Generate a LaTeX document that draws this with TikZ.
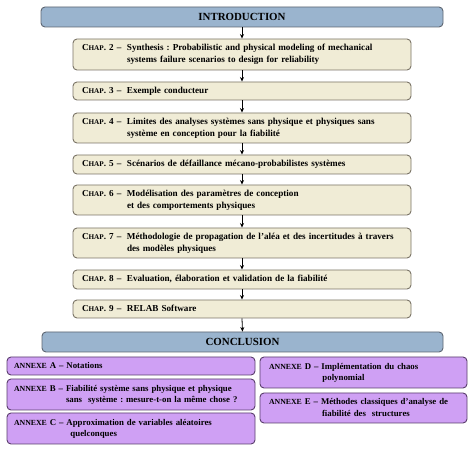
\documentclass[tikz,border=0pt]{standalone}
\usepackage{fontspec}
\setmainfont{Liberation Serif}
\usetikzlibrary{arrows.meta}
\definecolor{blueb}{HTML}{9AB4CE}
\definecolor{bluebd}{HTML}{5E6672}
\definecolor{creamb}{HTML}{F0ECD6}
\definecolor{creambd}{HTML}{7A7466}
\definecolor{purb}{HTML}{CFA0F4}
\definecolor{purbd}{HTML}{5A3E6C}
\newcommand{\chp}[1]{C{\fontsize{7.2}{8}\selectfont HAP}. #1 --}
\newcommand{\anx}[1]{{\fontsize{7.8}{8}\selectfont ANNEXE} #1 --}
\tikzset{
  headbox/.style={draw=bluebd, fill=blueb, line width=0.9pt, rounded corners=4pt,
    font=\bfseries\fontsize{10.9}{12}\selectfont, inner sep=0pt},
  chapbox/.style={draw=creambd, fill=creamb, line width=0.9pt, rounded corners=4pt,
    font=\bfseries\fontsize{9.15}{12}\selectfont, inner xsep=9pt, inner ysep=2pt,
    align=left},
  annbox/.style={draw=purbd, fill=purb, line width=0.9pt, rounded corners=4pt,
    font=\bfseries\fontsize{8.8}{11.5}\selectfont, inner ysep=2pt, align=left},
  link/.style={-{Stealth[length=4.5pt,width=4pt]}, line width=0.8pt, black}
}
\begin{document}
\frenchspacing
\begin{tikzpicture}[x=1pt,y=-1pt]
\useasboundingbox (0,0) rectangle (472,449);
\fill[white] (0,0) rectangle (472,449);
% header
\node[headbox, minimum width=402pt, minimum height=20pt] (intro) at (242,17) {INTRODUCTION};
% chapters
\node[chapbox, text width=320pt, minimum height=31pt] (c2) at (242,54.5)
 {\begin{tabular}{@{}p{45pt}@{}l@{}}\chp{2} & Synthesis : Probabilistic and physical modeling of mechanical\\ & systems failure scenarios to design for reliability\end{tabular}};
\node[chapbox, text width=320pt, minimum height=18pt] (c3) at (242,91)
 {\begin{tabular}{@{}p{45pt}@{}l@{}}\chp{3} & Exemple conducteur\end{tabular}};
\node[chapbox, text width=320pt, minimum height=30pt] (c4) at (242,128)
 {\begin{tabular}{@{}p{45pt}@{}l@{}}\chp{4} & Limites des analyses systèmes sans physique et physiques sans\\ & système en conception pour la fiabilité\end{tabular}};
\node[chapbox, text width=320pt, minimum height=19pt] (c5) at (242,164.5)
 {\begin{tabular}{@{}p{45pt}@{}l@{}}\chp{5} & Scénarios de défaillance mécano-probabilistes systèmes\end{tabular}};
\node[chapbox, text width=320pt, minimum height=30pt] (c6) at (242,200)
 {\begin{tabular}{@{}p{45pt}@{}l@{}}\chp{6} & Modélisation des paramètres de conception\\ & et des comportements physiques\end{tabular}};
\node[chapbox, text width=320pt, minimum height=30pt] (c7) at (242,243)
 {\begin{tabular}{@{}p{45pt}@{}l@{}}\chp{7} & Méthodologie de propagation de l’aléa et des incertitudes à travers\\ & des modèles physiques\end{tabular}};
\node[chapbox, text width=320pt, minimum height=19pt] (c8) at (242,279.5)
 {\begin{tabular}{@{}p{45pt}@{}l@{}}\chp{8} & Evaluation, élaboration et validation de la fiabilité\end{tabular}};
\node[chapbox, text width=320pt, minimum height=18pt] (c9) at (242,309)
 {\begin{tabular}{@{}p{45pt}@{}l@{}}\chp{9} & RELAB Software\end{tabular}};
\node[headbox, minimum width=401pt, minimum height=20pt] (concl) at (242.5,342) {CONCLUSION};
% annexes
\node[annbox, inner xsep=7pt, text width=234pt, minimum height=18pt] (aA) at (131,366)
 {\begin{tabular}{@{}l@{\ }l@{}}\anx{A} & Notations\end{tabular}};
\node[annbox, inner xsep=7pt, text width=234pt, minimum height=31pt] (aB) at (131,394.5)
 {\begin{tabular}{@{}l@{\ }l@{}}\anx{B} & Fiabilité système sans physique et physique\\ & sans\ \ système : mesure-t-on la même chose ?\end{tabular}};
\node[annbox, inner xsep=7pt, text width=234pt, minimum height=31pt] (aC) at (131,428.5)
 {\begin{tabular}{@{}l@{\ }l@{}}\anx{C} & Approximation de variables aléatoires\\ & \hspace{4pt}quelconques\end{tabular}};
\node[annbox, inner xsep=9pt, text width=189pt, minimum height=31pt] (aD) at (363.5,372.5)
 {\begin{tabular}{@{}l@{\ }l@{}}\anx{D} & Implémentation du chaos\\ & \hspace{1pt}polynomial\end{tabular}};
\node[annbox, inner xsep=9pt, text width=189pt, minimum height=30pt] (aE) at (363.5,408)
 {\begin{tabular}{@{}l@{\ }l@{}}\anx{E} & Méthodes classiques d'analyse de\\ & \hspace{1pt}fiabilité des\ \ structures\end{tabular}};
% arrows
\foreach \a/\b in {intro/c2,c2/c3,c3/c4,c4/c5,c5/c6,c6/c7,c7/c8,c8/c9,c9/concl}
  \draw[link] (\a.south) -- (\b.north);
\end{tikzpicture}
\end{document}
